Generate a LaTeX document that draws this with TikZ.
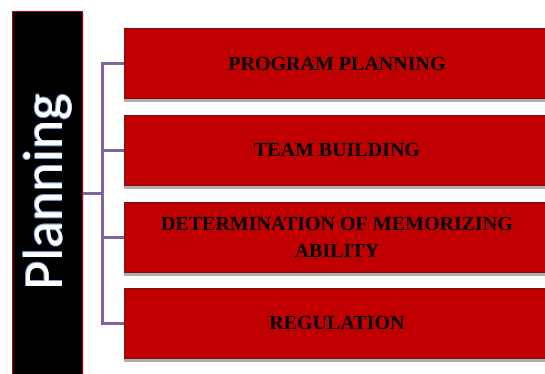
\documentclass[tikz,border=0pt]{standalone}
\usepackage{fontspec}
\setmainfont{Liberation Serif}
\newfontfamily\plfont{Carlito}
\usetikzlibrary{shadows}
\definecolor{boxred}{HTML}{C00000}
\definecolor{boxedge}{HTML}{7A1010}
\definecolor{conn}{HTML}{8064A2}
\definecolor{glow}{HTML}{7FA8E0}
\tikzset{
  redbox/.style={rectangle, fill=boxred, draw=boxedge, line width=0.6pt,
    minimum width=426pt, minimum height=70pt, inner sep=0pt,
    font=\fontsize{20}{27}\selectfont\bfseries, text=black, align=center,
    drop shadow={shadow xshift=0pt, shadow yshift=-3.5pt, opacity=0.45, fill=black!70}},
  blackbox/.style={rectangle, fill=black, draw=boxred, line width=1.8pt,
    minimum width=70pt, minimum height=375pt, inner sep=0pt, anchor=north west,
    drop shadow={shadow xshift=1.5pt, shadow yshift=-1.5pt, opacity=0.35}},
  connline/.style={draw=conn, line width=3pt},
  pltext/.style={rotate=90, anchor=base, inner sep=0pt, font=\plfont\fontsize{56}{56}\selectfont}
}
\begin{document}
\begin{tikzpicture}[x=1pt, y=-1pt]
\useasboundingbox (0,0) rectangle (545,373);
\begin{scope}
\clip (0,0) rectangle (545,373);
\node[blackbox] (pl) at (11.5,10.5) {};
\foreach \dx/\dy in {0.8/0,-0.8/0,0/0.8,0/-0.8,0.6/0.6,-0.6/0.6,0.6/-0.6,-0.6/-0.6} {
  \node[pltext, text=glow, opacity=0.6] at (62+\dx,192+\dy) {Planning};
}
\node[pltext, text=white] (pt) at (62,192) {Planning};
\node[redbox] (b1) at (337,63.5) {PROGRAM PLANNING};
\node[redbox] (b2) at (337,150) {TEAM BUILDING};
\node[redbox] (b3) at (337,237.5) {DETERMINATION OF MEMORIZING\\ABILITY};
\node[redbox] (b4) at (337,323) {REGULATION};
\coordinate (hub) at (102,193);
\draw[connline] (pl.east |- hub) -- (hub);
\draw[connline] (b1.west) -| (hub) |- (b4.west);
\draw[connline] (b2.west) -- (b2.west -| hub);
\draw[connline] (b3.west) -- (b3.west -| hub);
\end{scope}
\end{tikzpicture}
\end{document}
